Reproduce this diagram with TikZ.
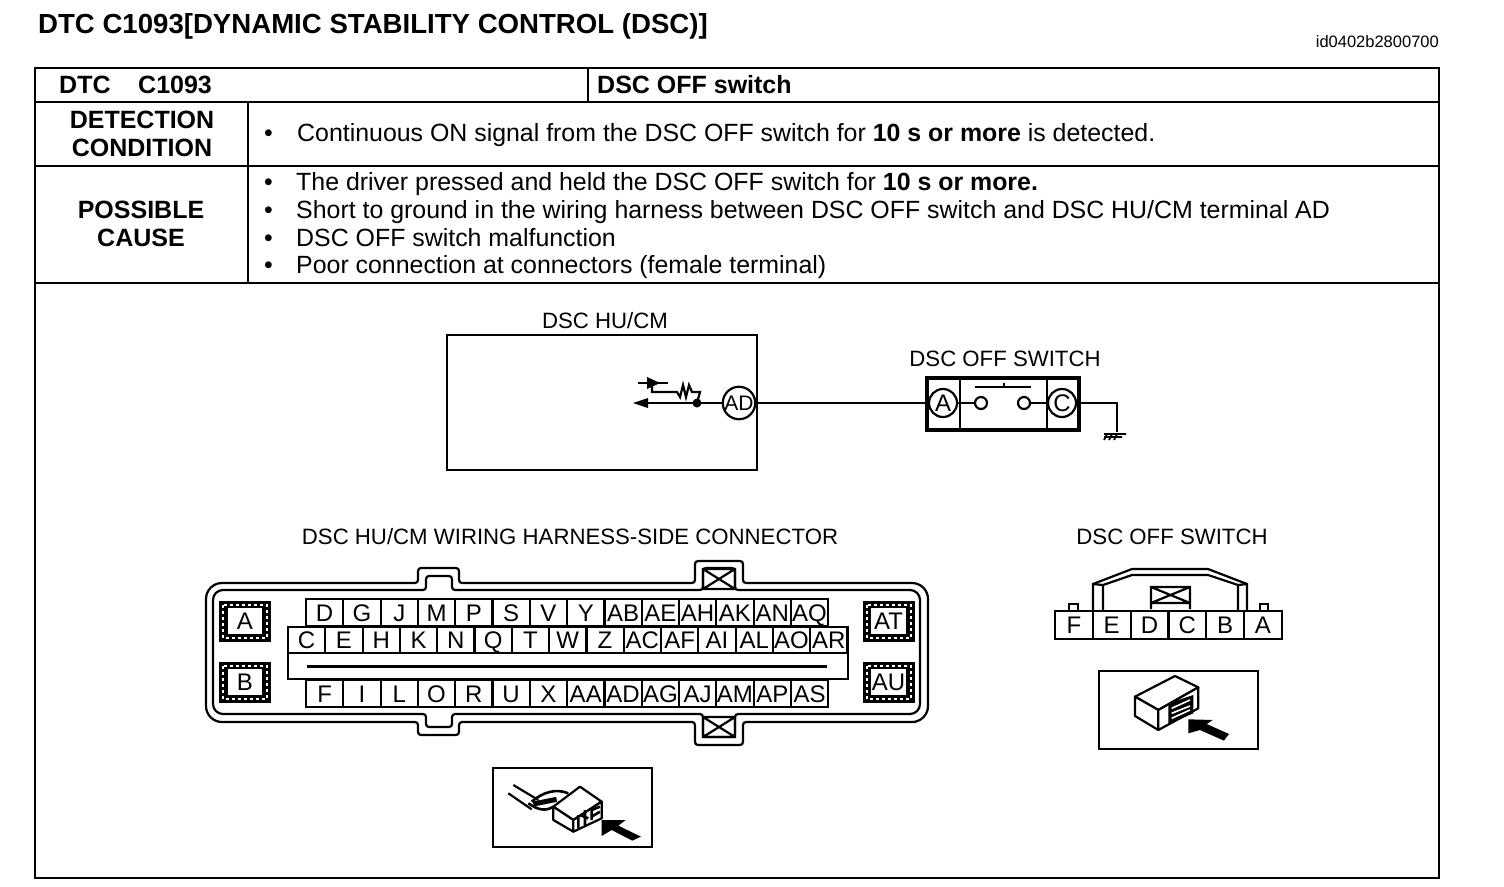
\documentclass[tikz,border=0pt]{standalone}
\usepackage{fontspec}
\setmainfont{Liberation Sans}
\tikzset{
	frameline/.style={draw,line width=2.8pt},
	thinline/.style={draw,line width=2.2pt},
	title/.style={anchor=base west,inner sep=0,font=\fontsize{27.6}{28}\selectfont\bfseries},
	head/.style={anchor=base west,inner sep=0,font=\fontsize{25}{25}\selectfont\bfseries},
	cause/.style={align=center,inner sep=0,font=\fontsize{25}{27.5}\selectfont\bfseries},
	body/.style={anchor=base west,inner sep=0,font=\fontsize{24.9}{25}\selectfont},
	caption/.style={inner sep=0,font=\fontsize{22.2}{23}\selectfont},
	pincell/.style={draw,line width=2.2pt,minimum width=37.3pt,minimum height=26.5pt,inner sep=0,text height=17pt,text depth=0pt,font=\fontsize{24}{24}\selectfont},
	sidecell/.style={draw,line width=2.2pt,minimum width=37.8pt,minimum height=28pt,inner sep=0,text height=17pt,text depth=0pt,font=\fontsize{24}{24}\selectfont},
	terminal/.style={draw,circle,line width=2.2pt,minimum size=28pt,inner sep=0,font=\fontsize{21}{21}\selectfont},
	contact/.style={draw,circle,line width=2.2pt,minimum size=12pt,inner sep=0},
	lockbox/.style={draw,line width=2.4pt,fill=white,minimum width=37pt,minimum height=28pt,inner sep=0,text height=17pt,text depth=0pt,font=\fontsize{24}{24}\selectfont},
}
\begin{document}
\begin{tikzpicture}[x=1pt,y=-1pt]
	\useasboundingbox (0,0) rectangle (1504,886);
	\node[title] (Title) at (38,33) {DTC C1093[DYNAMIC STABILITY CONTROL (DSC)]};
	\node[anchor=base east,inner sep=0,font=\fontsize{16.5}{17}\selectfont] (DocId) at (1439,47) {id0402b2800700};

	% table
	\path[frameline] (35,68) rectangle (1439,878);
	\path[frameline] (35,102) -- (1439,102) (35,166) -- (1439,166) (35,283) -- (1439,283);
	\path[frameline] (588,68) -- (588,102) (248,102) -- (248,283);
	\node[head] (DtcKey)  at (59,93)  {DTC};
	\node[head] (DtcCode) at (138,93) {C1093};
	\node[head] (DtcName) at (597,93) {DSC OFF switch};
	\node[cause] (Detection) at (142,134) {DETECTION\\CONDITION};
	\node[cause] (Cause)     at (141,224) {POSSIBLE\\CAUSE};

	\node[body] (DetBullet) at (264,141) {\textbullet};
	\node[body] (DetText)   at (297,141) {Continuous ON signal from the DSC OFF switch for \textbf{10 s or more} is detected.};
	\foreach \ty/\txt [count=\i] in {
		190/{The driver pressed and held the DSC OFF switch for \textbf{10 s or more.}},
		218/{Short to ground in the wiring harness between DSC OFF switch and DSC HU/CM terminal AD},
		246/{DSC OFF switch malfunction},
		273/{Poor connection at connectors (female terminal)}}
	{
		\node[body] (CauseBullet\i) at (264,\ty) {\textbullet};
		\node[body] (CauseText\i)   at (296,\ty) {\txt};
	}

	% circuit
	\node[caption] (UnitLabel) at (605,321) {DSC HU/CM};
	\path[frameline] (447,335) rectangle (757,470);
	\node[terminal] (AD) at (739,403) {AD};
	\node[caption] (SwitchLabel) at (1005,359) {DSC OFF SWITCH};
	\path[draw,line width=3.4pt] (927,378) rectangle (1079,430);
	\path[frameline] (960,378) -- (960,430) (1047,378) -- (1047,430);
	\node[terminal,font=\fontsize{24}{24}\selectfont] (SwA) at (943,403) {A};
	\node[terminal,font=\fontsize{24}{24}\selectfont] (SwC) at (1062,403) {C};
	\node[contact] (ContactL) at (981,403) {};
	\node[contact] (ContactR) at (1024,403) {};
	\coordinate (Ground) at (1117,432);
	\coordinate (Sense) at (697,403);
	\path[thinline] (AD) -- (SwA);
	\path[thinline] (SwA) -- (ContactL);
	\path[thinline] (ContactR) -- (SwC);
	\path[thinline] (SwC) -| (Ground);
	\path[thinline] (975,387) -- (1031,387) (1004,383) -- (1004,387);
	\path[draw,line width=1.8pt] (1104,434) -- (1126,434) (1104,437) -- (1122,437) (1107,434) -- (1104,440) (1112,434) -- (1109,440) (1117,434) -- (1114,440);
	% pull up inside the unit
	\path[thinline] (AD) -- (Sense) -- (648,403);
	\fill (633,403) -- (648,398) -- (648,408) -- cycle;
	\fill (Sense) circle (4.5pt);
	\path[thinline] (Sense) -- (700,392) -- (692,392) -- (689,385) -- (686,397) -- (683,385) -- (680,397) -- (677,392) -- (652,392) -- (652,383);
	\path[thinline] (638,383) -- (668,383);
	\fill (660,383) -- (647,377) -- (647,389) -- cycle;

	% harness connector
	\node[caption] (HarnessLabel) at (570,537) {DSC HU/CM WIRING HARNESS-SIDE CONNECTOR};
	\path[thinline,rounded corners=3pt] (300,583) -- (418,583) -- (418,568) -- (459,568) -- (459,583) -- (695,583) -- (695,561) -- (743,561) -- (743,583) -- (900,583)
		[rounded corners=16pt] -- (928,583) -- (928,722) -- (900,722) [rounded corners=3pt] -- (743,722) -- (743,745) -- (695,745) -- (695,722) -- (459,722) -- (459,735) -- (418,735) -- (418,722) -- (240,722)
		[rounded corners=16pt] -- (206,722) -- (206,583) -- (240,583) -- (300,583);
	\path[thinline,rounded corners=3pt] (300,590) -- (426,590) -- (426,576) -- (452,576) -- (452,590) -- (703,590) -- (703,568) -- (735,568) -- (735,590) -- (900,590)
		[rounded corners=10pt] -- (920,590) -- (920,714) -- (900,714) [rounded corners=3pt] -- (735,714) -- (735,737) -- (703,737) -- (703,714) -- (452,714) -- (452,727) -- (426,727) -- (426,714) -- (240,714)
		[rounded corners=10pt] -- (213,714) -- (213,590) -- (240,590) -- (300,590);
	\fill[white] (705,584) rectangle (733,596) (705,708) rectangle (733,720);
	\path[thinline] (703,569) rectangle (735,589) (703,569) -- (735,589) (735,569) -- (703,589);
	\path[thinline] (703,717) rectangle (735,737) (703,717) -- (735,737) (735,717) -- (703,737);

	\foreach \lbl [count=\i] in {D,G,J,M,P,S,V,Y,AB,AE,AH,AK,AN,AQ}
		\node[pincell] (Top\i) at ({287.35+37.3*\i},612.5) {\lbl};
	\foreach \lbl [count=\i] in {C,E,H,K,N,Q,T,W,Z,AC,AF,AI,AL,AO,AR}
		\node[pincell] (Mid\i) at ({269.35+37.3*\i},640) {\lbl};
	\foreach \lbl [count=\i] in {F,I,L,O,R,U,X,AA,AD,AG,AJ,AM,AP,AS}
		\node[pincell] (Low\i) at ({287.35+37.3*\i},693.5) {\lbl};
	\path[thinline] (288,653) rectangle (848,679);
	\path[draw,line width=3.4pt] (307,666.5) -- (827,666.5);

	\foreach \nm/\lx/\ly in {A/245/621,B/245/682,AT/888.5/621,AU/888.5/682}
	{
		\path[draw,line width=8pt] (\lx-22,\ly-16.5) rectangle (\lx+22,\ly+16.5);
		\path[draw=white,line width=2pt,dash pattern=on 3pt off 3pt] (\lx-22,\ly-16.5) rectangle (\lx+22,\ly+16.5);
		\node[lockbox] (Lock\nm) at (\lx,\ly) {\nm};
	}

	% view of the harness connector
	\path[frameline] (493,768) rectangle (652,847);
	\begin{scope}[shift={(485,760)},x=0.3333pt,y=-0.3333pt,line join=round]
		\path[thinline] (85,75) -- (160,120) (70,100) -- (140,148);
		\path[draw,line width=2.6pt] (140,125) .. controls (175,95) and (215,85) .. (250,100);
		\path[draw,line width=2.6pt] (130,130) .. controls (160,150) and (180,155) .. (205,140);
		\path[draw,line width=5pt] (145,132) -- (215,118);
		\path[thinline,fill=white] (205,140) -- (285,80) -- (350,125) -- (265,180) -- cycle;
		\path[thinline,fill=white] (205,140) -- (265,180) -- (265,215) -- (205,180) -- cycle;
		\path[thinline,fill=white] (265,180) -- (350,125) -- (350,175) -- (265,215) -- cycle;
		\path[draw,line width=2.6pt] (280,165) -- (280,205) (300,150) -- (300,195) (320,145) -- (320,180) (285,165) -- (310,175) (320,150) -- (345,140) (320,170) -- (345,155);
		\fill (350,180) -- (422,180) -- (400,197) -- (468,230) -- (442,242) -- (380,210) -- (350,228) -- cycle;
	\end{scope}

	% switch connector
	\node[caption] (SideLabel) at (1172,537) {DSC OFF SWITCH};
	\path[draw,line width=1.8pt] (1069,611) -- (1069,604) -- (1078,604) -- (1078,611) (1260,611) -- (1260,604) -- (1268,604) -- (1268,611);
	\path[thinline] (1093,611) -- (1093,584) -- (1132,569) -- (1208,569) -- (1247,584) -- (1247,611);
	\path[thinline] (1103,611) -- (1103,585) -- (1132,575) -- (1208,575) -- (1238,585) -- (1238,611);
	\path[thinline] (1093,584) -- (1103,585) (1247,584) -- (1238,585);
	\path[thinline] (1151,587) rectangle (1190,603) (1151,587) -- (1190,603) (1190,587) -- (1151,603) (1151,603) -- (1151,609) (1190,603) -- (1190,609);
	\foreach \lbl [count=\i] in {F,E,D,C,B,A}
		\node[sidecell] (Side\i) at ({1036.1+37.8*\i},625) {\lbl};

	% view of the switch connector
	\path[frameline] (1099,671) rectangle (1258,749);
	\begin{scope}[shift={(1040,560)},x=0.3333pt,y=-0.3333pt,line join=round]
		\path[thinline,fill=white] (285,410) -- (405,348) -- (475,382) -- (355,450) -- cycle;
		\path[thinline,fill=white] (285,410) -- (355,450) -- (355,510) -- (285,468) -- cycle;
		\path[thinline,fill=white] (355,450) -- (475,382) -- (475,445) -- (355,510) -- cycle;
		\fill (385,430) -- (460,405) -- (460,460) -- (385,492) -- cycle;
		\path[draw=white,line width=1.6pt] (395,445) -- (450,420) (395,460) -- (450,438) (395,475) -- (450,450);
		\fill (445,478) -- (518,480) -- (500,492) -- (567,522) -- (552,542) -- (480,510) -- (445,520) -- cycle;
	\end{scope}
\end{tikzpicture}
\end{document}
